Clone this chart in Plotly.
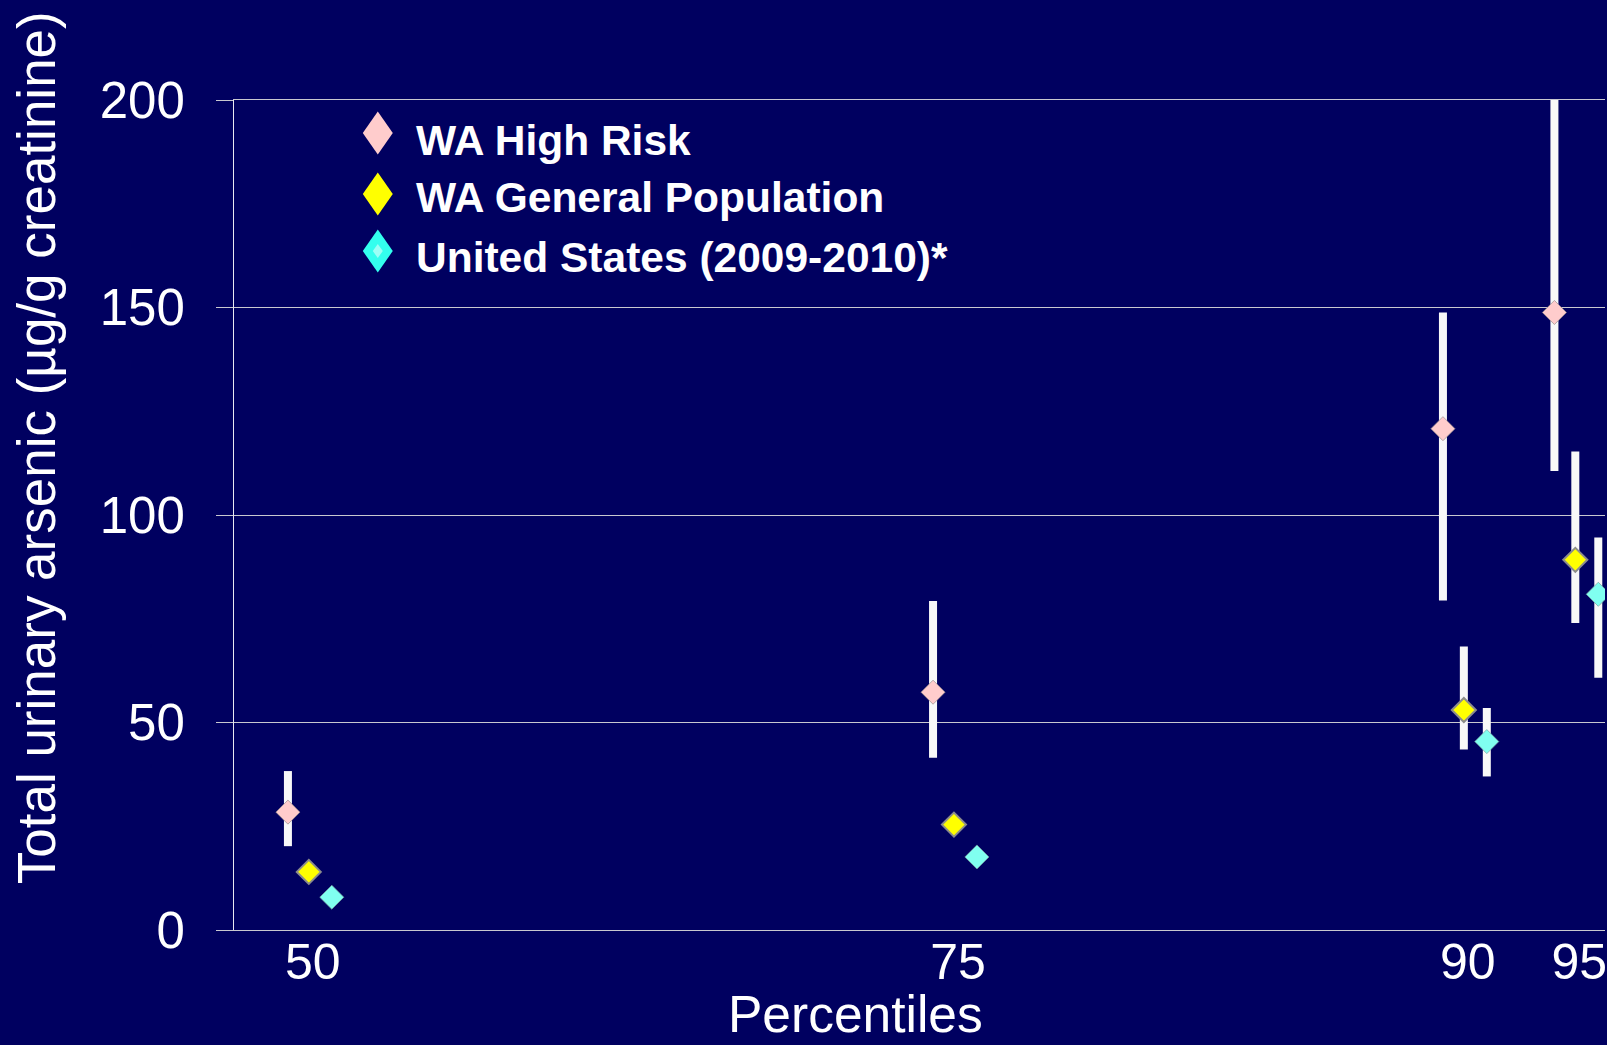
import plotly.graph_objects as go

# ---- data ----
percentiles = ["50", "75", "90", "95"]
series_names = ["WA High Risk", "WA General Population", "United States (2009-2010)*"]

hr_values = [28.4, 57.3, 120.8, 148.8]
hr_low = [20.2, 41.5, 79.4, 110.6]
hr_high = [38.3, 79.3, 148.8, 200.0]

gen_values = [14.0, 25.4, 53.0, 89.2]
gen_low = [None, None, 43.5, 74.0]
gen_high = [None, None, 68.3, 115.3]

us_values = [7.9, 17.6, 45.4, 80.9]
us_low = [None, None, 37.0, 60.8]
us_high = [None, None, 53.5, 94.6]

y_ticks = [0, 50, 100, 150, 200]

# ---- layout helpers (positions / styles) ----
W, H = 1607, 1045
ML, MR, MT, MB = 234, 0, 100, 115
PW, PH = W - ML - MR, H - MT - MB


def px_x(p):
    return (p - ML) / PW


def px_y(p):
    return (H - MB - p) / PH


slot_positions = [0, 25, 44.76, 49.08]
series_offsets = [-0.81, 0.0, 0.89]
series_colors = ["#FFCCCC", "#FFFF00", "#80FFF0"]
legend_colors = ["#FFCCCC", "#FFFF00", "#33FFEE"]
series_lines = [dict(color="rgba(150,140,140,0.7)", width=1),
                dict(color="#8C8C8C", width=2),
                dict(color="rgba(120,160,160,0.7)", width=1)]
BG = "#000060"
FONT = "Liberation Sans, Arial, sans-serif"

all_values = [hr_values, gen_values, us_values]
all_low = [hr_low, gen_low, us_low]
all_high = [hr_high, gen_high, us_high]

fig = go.Figure()
for i, name in enumerate(series_names):
    vals = all_values[i]
    plus = [(h - v) if h is not None else 0 for v, h in zip(vals, all_high[i])]
    minus = [(v - l) if l is not None else 0 for v, l in zip(vals, all_low[i])]
    xs = [p + series_offsets[i] for p in slot_positions]
    fig.add_trace(go.Scatter(
        x=xs, y=vals, mode="markers", name=name, showlegend=False,
        marker=dict(symbol="diamond", size=18.5, color=series_colors[i], line=series_lines[i]),
        error_y=dict(type="data", symmetric=False, array=plus, arrayminus=minus,
                     color="#F8F8F8", thickness=8, width=0),
        cliponaxis=True,
    ))

# ---- legend (drawn as layout decoration) ----
leg_sym_x = 378
leg_sym_y = [133, 194, 251]
leg_text_x = 414
leg_text_y = [141, 197, 257]
shapes = []
annotations = []
dw, dh = 15, 21.5
diamond = f"M 0,{dh} L {dw},0 L 0,{-dh} L {-dw},0 Z"
inner = "M 0,7 L 5,0 L 0,-7 L -5,0 Z"
for i, name in enumerate(series_names):
    shapes.append(dict(type="path", xref="paper", yref="paper", xsizemode="pixel", ysizemode="pixel",
                       xanchor=px_x(leg_sym_x), yanchor=px_y(leg_sym_y[i]), path=diamond,
                       fillcolor=legend_colors[i], line=dict(width=0), layer="above"))
    if i == 2:
        shapes.append(dict(type="path", xref="paper", yref="paper", xsizemode="pixel", ysizemode="pixel",
                           xanchor=px_x(leg_sym_x), yanchor=px_y(leg_sym_y[i]), path=inner,
                           fillcolor="#9CFFF6", line=dict(width=0), layer="above"))
    annotations.append(dict(text="<b>" + name + "</b>", xref="paper", yref="paper",
                            x=px_x(leg_text_x), y=px_y(leg_text_y[i]), xanchor="left", yanchor="middle",
                            showarrow=False, font=dict(size=42.5, color="white", family=FONT)))

annotations += [
    dict(text="Total urinary arsenic (µg/g creatinine)", textangle=-90,
         xref="paper", yref="paper", x=px_x(37), y=px_y(448),
         xanchor="center", yanchor="middle", showarrow=False,
         font=dict(size=53, color="white", family=FONT)),
    dict(text="Percentiles", xref="paper", yref="paper",
         x=px_x(856), y=px_y(H),
         xanchor="center", yanchor="bottom", showarrow=False,
         font=dict(size=51.5, color="white", family=FONT)),
]

x0 = slot_positions[0] - 2.90
x1 = slot_positions[0] + 50.23

fig.update_layout(
    width=W, height=H,
    margin=dict(l=ML, r=MR, t=MT, b=MB),
    paper_bgcolor=BG, plot_bgcolor=BG,
    font=dict(family=FONT, color="white"),
    showlegend=False,
    xaxis=dict(range=[x0, x1], tickvals=slot_positions, ticktext=percentiles,
               showgrid=False, zeroline=False, showline=True, mirror=True,
               linecolor="#C8C8D0", linewidth=1,
               ticks="", tickfont=dict(size=50, color="white", family=FONT), ticklabelshift=4,
               ticklabelstandoff=-12, ticklabeloverflow="allow"),
    yaxis=dict(range=[0, 200], tickvals=y_ticks, showgrid=True, gridcolor="#C8C8D0", gridwidth=1,
               zeroline=False, showline=True, linecolor="#E8E8F0", linewidth=1,
               ticks="outside", ticklen=17, tickcolor="#C8C8D0", tickwidth=1,
               tickfont=dict(size=51, color="white", family=FONT), ticklabelstandoff=21),
    shapes=shapes,
    annotations=annotations,
)

fig.write_html("out.html", config={"displayModeBar": False},
               post_script="document.body.style.margin='0';document.body.style.overflow='hidden';")
